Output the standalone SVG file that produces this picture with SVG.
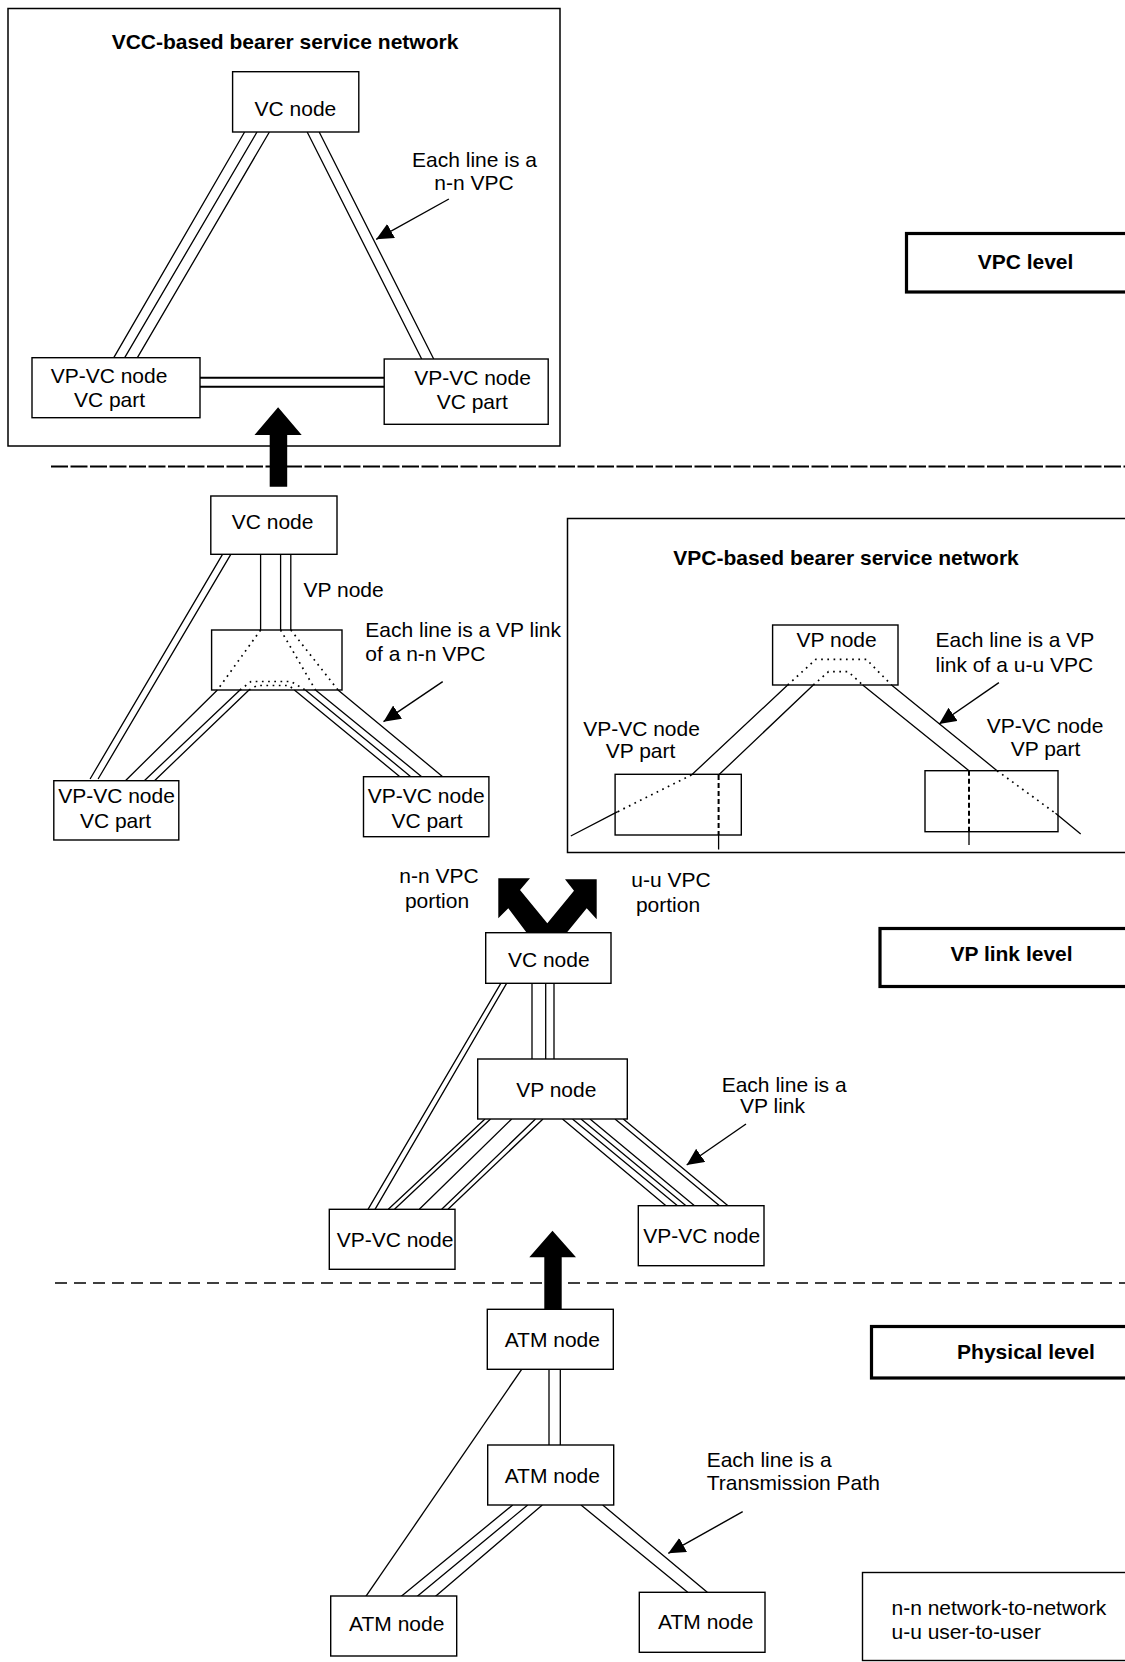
<svg xmlns="http://www.w3.org/2000/svg" width="1125" height="1662" viewBox="0 0 1125 1662">
<defs>
<style>
text{font-family:"Liberation Sans",Arial,sans-serif;font-size:21px;fill:#000}
.b{font-weight:bold}
.m{text-anchor:middle}
.box{fill:#fff;stroke:#000;stroke-width:1.4}
.nf{fill:none}
.frame{fill:none;stroke:#000;stroke-width:1.5}
.lvl{fill:#fff;stroke:#000;stroke-width:3.2}
.ln{fill:none;stroke:#000;stroke-width:1.3}
.thk{fill:none;stroke:#000;stroke-width:2}
.dot{fill:none;stroke:#000;stroke-width:1.7;stroke-dasharray:1.7 4.5}
.dsh{fill:none;stroke:#000;stroke-width:2;stroke-dasharray:5 3}
.ann{fill:none;stroke:#000;stroke-width:1.4;marker-end:url(#ah)}
.big{fill:#000;stroke:none}
</style>
<marker id="ah" markerUnits="userSpaceOnUse" markerWidth="18" markerHeight="16" refX="17" refY="8" orient="auto">
<path d="M0,0 L17,8 L0,16 z" fill="#000"/>
</marker>
</defs>
<rect width="1125" height="1662" fill="#fff"/>

<!-- level separators -->
<g id="separators">
<line x1="51" y1="466.5" x2="1125" y2="466.5" stroke="#000" stroke-width="2" stroke-dasharray="17 2.5"/>
<line x1="55" y1="1283" x2="1125" y2="1283" stroke="#000" stroke-width="1.6" stroke-dasharray="12 7"/>
</g>

<!-- containers -->
<g id="vcc-network">
<rect class="frame" x="8" y="8.5" width="552" height="437.5"/>
<text class="b m" x="285" y="48.5">VCC-based bearer service network</text>
</g>
<g id="vpc-network">
<rect class="frame" x="567.5" y="518.5" width="600" height="334"/>
<text class="b m" x="846" y="565">VPC-based bearer service network</text>
</g>

<!-- level labels -->
<g id="vpc-level"><rect class="lvl" x="906.5" y="233.5" width="240" height="58.5"/><text class="b m" x="1025.5" y="268.5">VPC level</text></g>
<g id="vp-link-level"><rect class="lvl" x="880" y="928.5" width="270" height="58"/><text class="b m" x="1011.5" y="961">VP link level</text></g>
<g id="physical-level"><rect class="lvl" x="871.5" y="1326.5" width="280" height="51.5"/><text class="b m" x="1026" y="1359">Physical level</text></g>
<g id="legend"><rect class="box" x="862.5" y="1572.5" width="290" height="88"/>
<text x="891.5" y="1615">n-n network-to-network</text>
<text x="891.5" y="1638.5">u-u user-to-user</text></g>

<!-- connectors -->
<g id="connectors">
<!-- VPC level -->
<path class="ln" d="M244.6,132 L113.8,357.7 M257,132 L124.7,357.7 M269.4,132 L137.4,357.7"/>
<path class="ln" d="M307.2,132 L421.7,359 M319.2,132 L433.7,359"/>
<path class="thk" d="M200,377.7 L384.2,377.7 M200,386.7 L384.2,386.7"/>
<path class="ann" d="M448.9,199 L376.2,239.3"/>

<!-- VP link level: VCC part -->
<path class="ln" d="M260.6,554.3 L260.6,630 M280.6,554.3 L280.6,630 M290.8,554.3 L290.8,630"/>
<path class="ln" d="M222.5,554.3 L90.1,779 M230.8,554.3 L98.1,779"/>
<path class="ln" d="M217.4,690 L125.4,780.7 M240,690 L144.3,780.7 M249,690 L154.5,780.7"/>
<path class="ln" d="M294.4,690 L399.9,776.7 M305.3,690 L410.8,776.7 M315.5,690 L421.7,776.7 M338,690 L442.7,776.7"/>
<path class="dot" d="M260.6,630 L217.4,690 M280.6,630 L315.5,690 M290.8,630 L338,690"/>
<path class="dot" d="M240,690 L251,681.5 L291,681.5 L305.3,690"/>
<path class="dot" d="M249,690 L257,685.5 L289,685.5 L294.4,690"/>
<path class="ann" d="M442.7,681.7 L383.5,721.7"/>

<!-- VP link level: VPC part -->
<path class="ln" d="M787.7,685 L691.5,775 M617.7,811.7 L570.8,836"/>
<path class="dot" d="M691.5,775 L617.7,811.7"/>
<path class="ln" d="M813.3,685 L718.6,775 M718.6,835 L718.6,849.5"/>
<path class="dsh" d="M718.6,775 L718.6,835"/>
<path class="ln" d="M862.7,685 L969,770.7 M969,831.7 L969,845"/>
<path class="dsh" d="M969,770.7 L969,831.7"/>
<path class="ln" d="M891.5,685 L997.1,770.7 M1055.5,813.3 L1080.7,834"/>
<path class="dot" d="M997.1,770.7 L1055.5,813.3"/>
<path class="dot" d="M787.7,685 L815.9,659.3 L866.3,659.3 L891.5,685"/>
<path class="dot" d="M813.3,685 L828.5,671.7 L848.3,671.7 L862.7,685"/>
<path class="ann" d="M998.9,682.7 L939.1,724"/>

<!-- VP link level: lower network -->
<path class="ln" d="M532,983.3 L532,1059 M545.7,983.3 L545.7,1059 M554,983.3 L554,1059"/>
<path class="ln" d="M500.8,983.3 L368,1209.3 M506.6,983.3 L375,1209.3"/>
<path class="ln" d="M485,1119 L388.3,1209.3 M490.5,1119 L394.5,1209.3 M511.7,1119 L419.3,1209.3 M535.5,1119 L441.7,1209.3 M543,1119 L448,1209.3"/>
<path class="ln" d="M562.5,1119 L666,1205.7 M572.5,1119 L677.5,1205.7 M581,1119 L686,1205.7 M590,1119 L694.5,1205.7 M615,1119 L719.5,1205.7 M623.3,1119 L728,1205.7"/>
<path class="ann" d="M746,1124 L686.7,1165"/>

<!-- physical level -->
<path class="ln" d="M549,1369.3 L549,1445 M560.3,1369.3 L560.3,1445"/>
<path class="ln" d="M521.7,1369.3 L365.7,1596.7"/>
<path class="ln" d="M512.7,1505 L400.7,1596.7 M527.7,1505 L416.7,1596.7 M542.3,1505 L435,1596.7"/>
<path class="ln" d="M581,1505 L687.7,1592.3 M602.7,1505 L707.3,1592.3"/>
<path class="ann" d="M742.7,1511.7 L668.3,1553.3"/>

<!-- level transition arrows -->
<polygon class="big" points="278.1,407.3 301.7,435 287.2,435 287.2,486.7 269.7,486.7 269.7,435 254.5,435"/>
<polygon class="big" points="526.7,932.7 508.3,908.3 498.3,918.3 498.3,878.3 530,878.3 520,890 547.3,923.3 574,890.7 565,879.3 596.7,879.3 596.7,919.3 586.7,908.3 566.7,932.7"/>
<polygon class="big" points="552.5,1230.7 576,1257.3 561.7,1257.3 561.7,1310 544.3,1310 544.3,1257.3 529.3,1257.3"/>
</g>

<!-- annotation texts -->
<g id="annotations">
<text class="m" x="474.5" y="166.7">Each line is a</text>
<text class="m" x="474" y="190">n-n VPC</text>
<text x="303.5" y="597.3">VP node</text>
<text x="365.3" y="637.3">Each line is a VP link</text>
<text x="365.3" y="660.7">of a n-n VPC</text>
<text x="935.5" y="646.7">Each line is a VP</text>
<text x="935.5" y="671.7">link of a u-u VPC</text>
<text class="m" x="439" y="882.7">n-n VPC</text>
<text class="m" x="437" y="908.3">portion</text>
<text class="m" x="671" y="887.3">u-u VPC</text>
<text class="m" x="668" y="911.7">portion</text>
<text x="721.7" y="1092.3">Each line is a</text>
<text x="740" y="1113.3">VP link</text>
<text x="706.7" y="1466.7">Each line is a</text>
<text x="706.7" y="1490">Transmission Path</text>
</g>

<!-- nodes: VPC level -->
<g id="l1-vc-node"><rect class="box" x="232.6" y="71.7" width="126.2" height="60.3"/><text class="m" x="295.4" y="116.3">VC node</text></g>
<g id="l1-vpvc-left"><rect class="box" x="32" y="357.7" width="168" height="60"/><text class="m" x="109" y="383.3">VP-VC node</text><text class="m" x="109.5" y="407.3">VC part</text></g>
<g id="l1-vpvc-right"><rect class="box" x="384.2" y="359" width="164" height="65.3"/><text class="m" x="472.5" y="385">VP-VC node</text><text class="m" x="472.3" y="409.3">VC part</text></g>

<!-- nodes: VP link level, VCC part -->
<g id="l2-vc-node"><rect class="box" x="210.8" y="496" width="126.2" height="58.3"/><text class="m" x="272.6" y="529.3">VC node</text></g>
<g id="l2-vp-node"><rect class="box nf" x="211.6" y="630" width="130.4" height="60"/></g>
<g id="l2-vpvc-left"><rect class="box" x="53.8" y="780.7" width="125" height="59.3"/><text class="m" x="116.5" y="803.3">VP-VC node</text><text class="m" x="115.5" y="827.7">VC part</text></g>
<g id="l2-vpvc-right"><rect class="box" x="363.5" y="776.7" width="125.4" height="60"/><text class="m" x="426.2" y="803.3">VP-VC node</text><text class="m" x="427" y="827.7">VC part</text></g>

<!-- nodes: VP link level, VPC part -->
<g id="vpc-vp-node"><rect class="box nf" x="772.6" y="625" width="125.4" height="60"/><text class="m" x="836.6" y="647.3">VP node</text></g>
<g id="vpc-vpvc-left"><rect class="box nf" x="615.1" y="774.3" width="126.2" height="60.7"/><text class="m" x="641.5" y="736">VP-VC node</text><text class="m" x="640.5" y="758.3">VP part</text></g>
<g id="vpc-vpvc-right"><rect class="box nf" x="925" y="770.7" width="133" height="61"/><text class="m" x="1045" y="733.3">VP-VC node</text><text class="m" x="1045.5" y="756">VP part</text></g>

<!-- nodes: VP link level, lower -->
<g id="l3-vc-node"><rect class="box" x="485.7" y="932.7" width="125.3" height="50.6"/><text class="m" x="548.8" y="966.7">VC node</text></g>
<g id="l3-vp-node"><rect class="box" x="477.7" y="1059" width="149.6" height="60"/><text class="m" x="556.3" y="1096.7">VP node</text></g>
<g id="l3-vpvc-left"><rect class="box" x="329.3" y="1209.3" width="125.7" height="60"/><text class="m" x="395" y="1246.7">VP-VC node</text></g>
<g id="l3-vpvc-right"><rect class="box" x="638.3" y="1205.7" width="125.7" height="60"/><text class="m" x="701.7" y="1243.3">VP-VC node</text></g>

<!-- nodes: physical level -->
<g id="atm-top"><rect class="box" x="487.3" y="1309.3" width="126" height="60"/><text class="m" x="552.3" y="1347.3">ATM node</text></g>
<g id="atm-mid"><rect class="box" x="487.7" y="1445" width="126" height="60"/><text class="m" x="552.3" y="1482.7">ATM node</text></g>
<g id="atm-left"><rect class="box" x="330.7" y="1596" width="126" height="60"/><text class="m" x="396.7" y="1630.7">ATM node</text></g>
<g id="atm-right"><rect class="box" x="639.3" y="1592.3" width="125.7" height="60"/><text class="m" x="705.7" y="1629">ATM node</text></g>
</svg>
